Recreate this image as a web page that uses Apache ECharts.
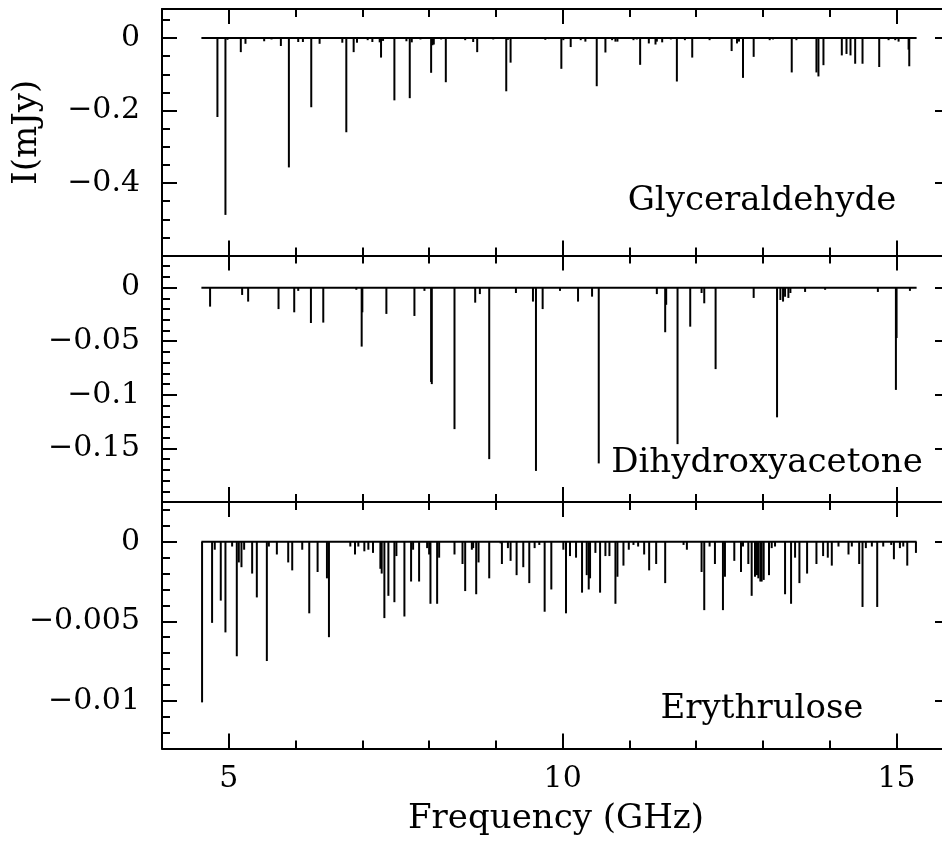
<!DOCTYPE html>
<html><head><meta charset="utf-8">
<script src="https://cdn.jsdelivr.net/npm/echarts@6/dist/echarts.min.js"></script>
<style>html,body{margin:0;padding:0;background:#fff;overflow:hidden}#c{width:942px;height:841px}</style>
</head><body><div id="c"></div><script>
// ---------- data ----------
const xMin = 4, xMax = 15.8;
const xMajorTicks = [5, 10, 15];
const xMinorTicks = [4, 5, 6, 7, 8, 9, 10, 11, 12, 13, 14, 15];
const xTickLabels = ['5', '10', '15'];
const panelNames = ['Glyceraldehyde', 'Dihydroxyacetone', 'Erythrulose'];
const yMins = [-0.6, -0.2, -0.013];
const yMaxs = [0.08, 0.03, 0.0025];
const yMajorTicks = [[0, -0.2, -0.4], [0, -0.05, -0.1, -0.15], [0, -0.005, -0.01]];
const yMinorTicks = [
  [0.05, -0.05, -0.1, -0.15, -0.25, -0.3, -0.35, -0.45, -0.5, -0.55],
  [0.02, 0.01, -0.01, -0.02, -0.03, -0.04, -0.06, -0.07, -0.08, -0.09, -0.11, -0.12, -0.13, -0.14, -0.16, -0.17, -0.18, -0.19],
  [0.002, 0.001, -0.001, -0.002, -0.003, -0.004, -0.006, -0.007, -0.008, -0.009, -0.011, -0.012]
];
const baselineRange = [4.59, 15.30];

const glyceraldehyde = [
  [4.83,-0.218],[4.95,-0.488],[4.98,-0.005],[5.18,-0.039],[5.25,-0.016],[5.53,-0.009],[5.64,-0.004],
  [5.78,-0.022],[5.90,-0.357],[6.04,-0.011],[6.11,-0.011],[6.235,-0.191],[6.36,-0.016],[6.70,-0.013],
  [6.76,-0.260],[6.87,-0.039],[6.92,-0.013],[7.08,-0.006],[7.15,-0.011],[7.26,-0.012],[7.28,-0.054],
  [7.31,-0.008],[7.48,-0.172],[7.66,-0.009],[7.71,-0.166],[7.74,-0.012],[7.87,-0.004],[8.03,-0.096],
  [8.05,-0.020],[8.07,-0.018],[8.18,-0.004],[8.25,-0.122],[8.54,-0.006],[8.66,-0.011],[8.72,-0.039],
  [8.96,-0.004],[9.155,-0.147],[9.18,-0.005],[9.22,-0.068],[9.74,-0.005],[9.79,-0.003],
  [9.98,-0.085],[10.01,-0.006],[10.12,-0.025],[10.27,-0.006],[10.34,-0.010],[10.51,-0.133],[10.64,-0.040],
  [10.74,-0.006],[10.79,-0.010],[10.82,-0.010],[11.06,-0.006],[11.11,-0.004],[11.16,-0.074],[11.29,-0.015],
  [11.39,-0.018],[11.41,-0.010],[11.49,-0.012],[11.62,-0.004],[11.71,-0.120],[11.83,-0.006],[11.94,-0.054],
  [12.20,-0.006],[12.53,-0.036],[12.61,-0.015],[12.64,-0.010],[12.70,-0.110],[12.86,-0.052],[13.10,-0.006],
  [13.15,-0.004],[13.43,-0.095],[13.50,-0.006],[13.80,-0.095],[13.83,-0.106],[13.905,-0.075],[14.18,-0.048],
  [14.25,-0.044],[14.31,-0.048],[14.38,-0.071],[14.49,-0.071],[14.74,-0.080],[14.88,-0.006],[14.98,-0.006],
  [15.03,-0.010],[15.18,-0.032],[15.19,-0.078]
];
const dihydroxyacetone = [
  [4.72,-0.0177],[5.20,-0.0068],[5.29,-0.013],[5.745,-0.020],[5.98,-0.023],[6.04,-0.003],[6.23,-0.033],
  [6.415,-0.0326],[6.91,-0.002],[6.99,-0.055],[7.00,-0.023],[7.36,-0.0245],[7.78,-0.0264],[7.93,-0.003],
  [8.03,-0.088],[8.04,-0.090],[8.38,-0.132],[8.69,-0.014],[8.76,-0.006],[8.90,-0.160],[9.30,-0.005],
  [9.555,-0.013],[9.60,-0.171],[9.70,-0.020],[9.96,-0.003],[10.23,-0.013],[10.44,-0.0084],[10.54,-0.164],
  [11.41,-0.006],[11.535,-0.0416],[11.55,-0.016],[11.72,-0.146],[11.91,-0.0364],[12.08,-0.005],[12.12,-0.0146],
  [12.29,-0.076],[12.86,-0.0096],[13.21,-0.121],[13.26,-0.0115],[13.30,-0.013],[13.33,-0.0085],[13.38,-0.0096],
  [13.41,-0.005],[13.63,-0.004],[13.93,-0.002],[14.72,-0.004],[14.99,-0.0954],[15.00,-0.047],[15.20,-0.003]
];
const erythrulose = [
  [4.60,-0.0101],[4.75,-0.0051],[4.79,-0.0005],[4.88,-0.0037],[4.95,-0.0057],[5.05,-0.0003],[5.12,-0.0072],
  [5.15,-0.0013],[5.19,-0.0016],[5.23,-0.0005],[5.35,-0.0020],[5.42,-0.0035],[5.57,-0.0075],[5.60,-0.0003],
  [5.72,-0.0008],[5.89,-0.0013],[5.95,-0.0018],[6.10,-0.0005],[6.205,-0.0045],[6.33,-0.0019],[6.47,-0.0023],
  [6.50,-0.0060],[6.82,-0.0003],[6.89,-0.0008],[6.94,-0.0003],[7.03,-0.0006],[7.09,-0.0005],[7.16,-0.0007],
  [7.27,-0.0017],[7.29,-0.0020],[7.33,-0.0048],[7.39,-0.0034],[7.48,-0.0038],[7.51,-0.0009],[7.63,-0.0047],
  [7.73,-0.0025],[7.76,-0.0005],[7.85,-0.0025],[7.97,-0.0004],[8.00,-0.0008],[8.02,-0.0039],[8.12,-0.0039],
  [8.15,-0.0010],[8.38,-0.0008],[8.50,-0.0014],[8.54,-0.0031],[8.64,-0.0005],[8.66,-0.0004],[8.705,-0.0033],
  [8.74,-0.0013],[8.90,-0.0023],[9.07,-0.0001],[9.09,-0.0014],[9.18,-0.0004],[9.22,-0.0012],[9.31,-0.0021],
  [9.41,-0.0016],[9.50,-0.0026],[9.58,-0.0004],[9.65,-0.0002],[9.73,-0.0044],[9.83,-0.0030],[10.01,-0.0005],
  [10.05,-0.0045],[10.11,-0.0009],[10.20,-0.0010],[10.29,-0.0032],[10.36,-0.0021],[10.39,-0.0030],[10.41,-0.0023],
  [10.49,-0.0007],[10.56,-0.0032],[10.64,-0.0009],[10.70,-0.0009],[10.79,-0.0039],[10.82,-0.0022],[10.91,-0.0015],
  [10.99,-0.0005],[11.06,-0.0002],[11.13,-0.0003],[11.22,-0.0008],[11.295,-0.0018],[11.40,-0.0014],[11.535,-0.0026],
  [11.81,-0.0002],[11.86,-0.0005],[12.08,-0.0019],[12.12,-0.0043],[12.20,-0.0003],[12.28,-0.0014],[12.40,-0.0043],
  [12.43,-0.0022],[12.57,-0.0012],[12.67,-0.0019],[12.70,-0.0003],[12.78,-0.0014],[12.83,-0.0034],[12.88,-0.0022],
  [12.91,-0.0021],[12.93,-0.0023],[12.96,-0.0025],[12.98,-0.0025],[13.01,-0.0024],[13.09,-0.0021],[13.13,-0.0004],
  [13.18,-0.0003],[13.33,-0.0033],[13.42,-0.0039],[13.48,-0.0010],[13.545,-0.0026],[13.66,-0.0020],[13.80,-0.0014],
  [13.90,-0.0009],[13.97,-0.0010],[14.03,-0.0015],[14.13,-0.0003],[14.28,-0.0008],[14.33,-0.0003],[14.44,-0.0014],
  [14.49,-0.0041],[14.54,-0.0004],[14.63,-0.0003],[14.71,-0.0041],[14.80,-0.0003],[14.92,-0.0002],[14.96,-0.0011],
  [15.05,-0.0004],[15.10,-0.0003],[15.16,-0.0015],[15.29,-0.0007]
];
const spectra = [glyceraldehyde, dihydroxyacetone, erythrulose];

// ---------- layout ----------
const FONT = 'DejaVu Serif';
const gridTops = [9, 255.5, 502];
const gridH = 246.5;
const labelPos = [[762, 201], [767, 463], [762, 709]];
const black = '#000';

function fmt(v) {
  if (v === 0) return '0';
  return String(v).replace('-', '\u2212');
}

const grids = gridTops.map(t => ({ left: 162, width: 788, top: t, height: gridH, containLabel: false, outerBoundsMode: 'none' }));
const xAxes = [], yAxes = [], series = [];

for (let i = 0; i < 3; i++) {
  const lineStyle = { color: black, width: 2 };
  const baseX = { gridIndex: i, type: 'value', min: xMin, max: xMax, splitLine: { show: false } };
  const mainXIndex = xAxes.length;
  xAxes.push(Object.assign({}, baseX, {
    position: 'bottom',
    axisLine: { show: true, onZero: false, lineStyle },
    axisTick: { show: true, inside: true, length: 8, lineStyle, customValues: xMinorTicks },
    axisLabel: i === 2 ? {
      show: true, customValues: xMajorTicks, margin: 16, color: black, fontSize: 30, fontFamily: FONT,
      formatter: v => xTickLabels[xMajorTicks.indexOf(v)]
    } : { show: false },
    name: i === 2 ? 'Frequency (GHz)' : '',
    nameLocation: 'middle', nameGap: 54,
    nameTextStyle: { color: black, fontSize: 34, fontFamily: FONT }
  }));
  xAxes.push(Object.assign({}, baseX, {
    position: 'bottom', axisLine: { show: false, onZero: false },
    axisTick: { show: true, inside: true, length: 15, lineStyle, customValues: xMajorTicks },
    axisLabel: { show: false }
  }));
  xAxes.push(Object.assign({}, baseX, {
    position: 'top', axisLine: { show: true, onZero: false, lineStyle },
    axisTick: { show: true, inside: true, length: 8, lineStyle, customValues: xMinorTicks },
    axisLabel: { show: false }
  }));
  xAxes.push(Object.assign({}, baseX, {
    position: 'top', axisLine: { show: false, onZero: false },
    axisTick: { show: true, inside: true, length: 15, lineStyle, customValues: xMajorTicks },
    axisLabel: { show: false }
  }));

  const baseY = { gridIndex: i, type: 'value', min: yMins[i], max: yMaxs[i], splitLine: { show: false } };
  const mainYIndex = yAxes.length;
  yAxes.push(Object.assign({}, baseY, {
    position: 'left',
    axisLine: { show: true, onZero: false, lineStyle },
    axisTick: { show: true, inside: true, length: 15, lineStyle, customValues: yMajorTicks[i] },
    axisLabel: { show: true, customValues: yMajorTicks[i], margin: 22, color: black, fontSize: 30, fontFamily: FONT, formatter: fmt },
    name: i === 0 ? 'I(mJy)' : '',
    nameLocation: 'middle', nameGap: 118,
    nameTextStyle: { color: black, fontSize: 34, fontFamily: FONT }
  }));
  yAxes.push(Object.assign({}, baseY, {
    position: 'left', axisLine: { show: false, onZero: false },
    axisTick: { show: true, inside: true, length: 8, lineStyle, customValues: yMinorTicks[i] },
    axisLabel: { show: false }
  }));
  yAxes.push(Object.assign({}, baseY, {
    position: 'right', axisLine: { show: true, onZero: false, lineStyle },
    axisTick: { show: true, inside: true, length: 15, lineStyle, customValues: yMajorTicks[i] },
    axisLabel: { show: false }
  }));
  yAxes.push(Object.assign({}, baseY, {
    position: 'right', axisLine: { show: false, onZero: false },
    axisTick: { show: true, inside: true, length: 8, lineStyle, customValues: yMinorTicks[i] },
    axisLabel: { show: false }
  }));

  series.push({
    type: 'line', xAxisIndex: mainXIndex, yAxisIndex: mainYIndex,
    data: [[baselineRange[0], 0], [baselineRange[1], 0]],
    symbol: 'none', lineStyle: { color: black, width: 2 }, silent: true, z: 3
  });
  series.push({
    type: 'bar', xAxisIndex: mainXIndex, yAxisIndex: mainYIndex,
    data: spectra[i], barWidth: 2, itemStyle: { color: black }, silent: true, z: 4
  });
}

const graphic = panelNames.map((n, i) => ({
  type: 'text', x: labelPos[i][0], y: labelPos[i][1], z: 100,
  style: { text: n, fill: black, font: '34px "' + FONT + '"', textAlign: 'center', textVerticalAlign: 'middle' }
}));

const chart = echarts.init(document.getElementById('c'), null, { renderer: 'canvas' });
chart.setOption({
  animation: false,
  backgroundColor: '#fff',
  grid: grids,
  xAxis: xAxes,
  yAxis: yAxes,
  series: series,
  graphic: graphic
});
</script></body></html>
